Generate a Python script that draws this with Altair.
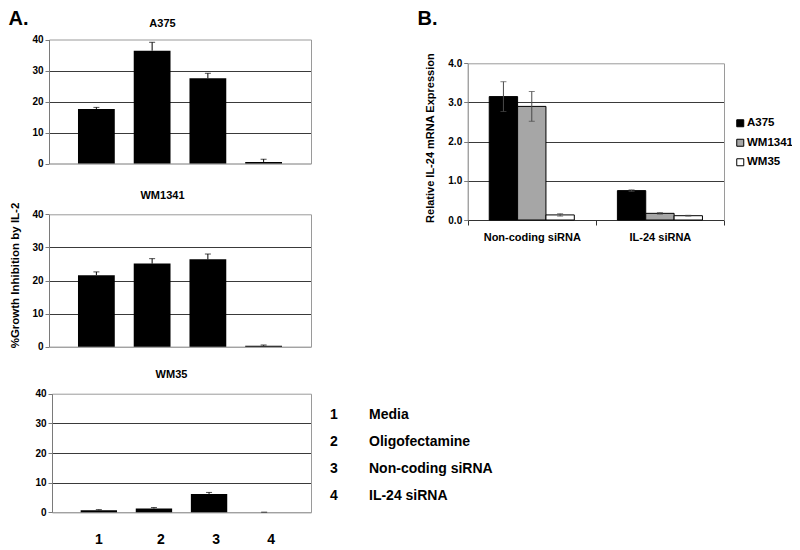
import altair as alt
import pandas as pd

W, H = 784, 542
FONT = "Liberation Sans"

# ---------------- data (panel A) ----------------
treatments = ["1", "2", "3", "4"]
treatment_names = ["Media", "Oligofectamine", "Non-coding siRNA", "IL-24 siRNA"]
a375_vals = [17.6, 36.4, 27.5, 0.5]
a375_errs = [0.5, 2.7, 1.6, 0.9]
wm1341_vals = [21.6, 25.1, 26.4, 0.3]
wm1341_errs = [1.0, 1.5, 1.6, 0.2]
wm35_vals = [0.7, 1.3, 6.2, 0.05]
wm35_errs = [0.2, 0.3, 0.5, 0.0]
a_ticks = [0, 10, 20, 30, 40]

# ---------------- data (panel B) ----------------
b_groups = ["Non-coding siRNA", "IL-24 siRNA"]
b_lines = ["A375", "WM1341", "WM35"]
b_a375 = [3.15, 0.75]
b_a375_err = [0.38, 0.02]
b_wm1341 = [2.90, 0.17]
b_wm1341_err = [0.38, 0.02]
b_wm35 = [0.13, 0.11]
b_wm35_err = [0.03, 0.01]
b_colors = ["#000000", "#a6a6a6", "#ffffff"]
b_ticks = [0, 1, 2, 3, 4]

GRID = "#3a3a3a"
BORDER = "#9a9a9a"
AXIS = "#7a7a7a"


def a_panel(name, vals, errs, xr, yr, title_x, title_y, show_labels=False,
            ytitle=None, ytitle_props=None):
    df = pd.DataFrame({"t": treatments, "v": vals, "e": errs})
    df["hi"] = df["v"] + df["e"]
    xs = alt.Scale(domain=treatments, range=list(xr), paddingInner=0.34, paddingOuter=0.52)
    ys = alt.Scale(domain=[0, 40], range=list(yr), nice=False)
    x0, x1 = xr
    y0, y1 = yr
    yaxis_kw = dict(
        orient="left", offset=-x0, values=a_ticks, format="d",
        labelFontSize=10, labelFontWeight="bold", labelColor="black", labelPadding=2,
        ticks=True, tickSize=4, tickColor=AXIS, domainColor=AXIS,
        grid=True, gridColor=GRID, gridWidth=1,
        gridOpacity=alt.condition("datum.value > 0 && datum.value < 40", alt.value(1), alt.value(0)),
        title=ytitle,
    )
    if ytitle_props:
        yaxis_kw.update(ytitle_props)
    xaxis_kw = dict(orient="bottom", offset=y0 - H, ticks=False, domainColor=AXIS,
                    labels=show_labels, title=None, grid=False)
    if show_labels:
        xaxis_kw.update(labelFontSize=14, labelFontWeight="bold", labelColor="black",
                        labelAngle=0, labelPadding=20,
                        labelOffset=alt.condition("datum.value != '1'", alt.value(7), alt.value(0)))
    base = alt.Chart(df)
    bars = base.mark_bar(color="black").encode(
        x=alt.X("t:N", scale=xs, axis=alt.Axis(**xaxis_kw)),
        y=alt.Y("v:Q", scale=ys, axis=alt.Axis(**yaxis_kw)),
    )
    err = base.mark_rule(color="black", strokeWidth=1).encode(
        x=alt.X("t:N", scale=xs, axis=alt.Axis(
            orient="top", offset=-y1, labels=False, ticks=False, grid=False,
            domainColor=BORDER, title=name, titleX=title_x, titleY=title_y,
            titleAlign="center", titleBaseline="alphabetic", titleAngle=0,
            titleFontSize=11, titleFontWeight="bold", titleColor="black")),
        y=alt.Y("v:Q", scale=ys, axis=alt.Axis(
            orient="right", offset=x1 - W, labels=False, ticks=False, grid=False,
            domainColor=BORDER, title=None)),
        y2="hi:Q",
    )
    cap = base.mark_tick(color="black", size=6, thickness=1, orient="horizontal").encode(
        x=alt.X("t:N", scale=xs, axis=None),
        y=alt.Y("hi:Q", scale=ys, axis=None),
    )
    return alt.layer(bars, err, cap).resolve_axis(x="independent", y="independent")


p_a375 = a_panel("A375", a375_vals, a375_errs, (41, 303), (155.5, 31.5), 154, -12.8,
                 ytitle="A.", ytitle_props=dict(titleAngle=0, titleX=-41, titleY=0,
                                                titleAlign="left", titleBaseline="top",
                                                titleFontSize=20, titleFontWeight="bold",
                                                titleColor="black"))
p_wm1341 = a_panel("WM1341", wm1341_vals, wm1341_errs, (41, 303), (338.7, 206.3), 154, -16,
                   ytitle="%Growth Inhibition by IL-2",
                   ytitle_props=dict(titleAngle=-90, titleX=-34, titleY=267,
                                     titleAlign="center", titleBaseline="middle",
                                     titleFontSize=11.5, titleFontWeight="bold",
                                     titleColor="black"))
p_wm35 = a_panel("WM35", wm35_vals, wm35_errs, (44, 303), (504.3, 385.7), 163, -16.2,
                 show_labels=True)

# legend text for panel A
dfl = pd.DataFrame({
    "row": [1, 2, 3, 4] * 2,
    "col": ["num"] * 4 + ["name"] * 4,
    "txt": treatments + treatment_names,
})
legend_text = alt.Chart(dfl).mark_text(
    align="left", baseline="middle", fontSize=14, fontWeight="bold", font=FONT, color="black"
).encode(
    x=alt.X("col:N", scale=alt.Scale(type="point", domain=["num", "name"], range=[322, 361], padding=0), axis=None),
    y=alt.Y("row:O", scale=alt.Scale(type="point", domain=[1, 2, 3, 4], range=[407, 488], padding=0), axis=None),
    text="txt:N",
)

# ---------------- panel B ----------------
rows = []
for line, vals, errs in [("A375", b_a375, b_a375_err), ("WM1341", b_wm1341, b_wm1341_err),
                         ("WM35", b_wm35, b_wm35_err)]:
    for g, v, e in zip(b_groups, vals, errs):
        rows.append({"g": g, "line": line, "v": v, "lo": v - e, "hi": v + e})
dfb = pd.DataFrame(rows)

bx0, bx1 = 459.7, 716
by0, by1 = 212, 55.3
bxs = alt.Scale(domain=b_groups, range=[bx0, bx1], paddingInner=0, paddingOuter=0)
bys = alt.Scale(domain=[0, 4], range=[by0, by1], nice=False)
boff = alt.Scale(domain=b_lines, paddingInner=0, paddingOuter=0.76)

bbase = alt.Chart(dfb)
b_bars = bbase.mark_bar(stroke="black", strokeWidth=1).encode(
    x=alt.X("g:N", scale=bxs, sort=b_groups, axis=alt.Axis(
        orient="bottom", offset=by0 - H, tickBand="extent", ticks=True, tickSize=5,
        tickColor="#333333", domainColor="#333333", labelAngle=0, labelFontSize=11,
        labelFontWeight="bold", labelColor="black", labelPadding=6, grid=False,
        title="B.", titleX=409, titleY=-by0, titleAlign="left",
        titleBaseline="top", titleAngle=0, titleFontSize=20,
        titleFontWeight="bold", titleColor="black")),
    xOffset=alt.XOffset("line:N", scale=boff, sort=b_lines),
    y=alt.Y("v:Q", scale=bys, axis=alt.Axis(
        orient="left", offset=-bx0, values=b_ticks, format=".1f",
        labelFontSize=10, labelFontWeight="bold", labelColor="black", labelPadding=2,
        tickSize=4, tickColor=AXIS, domainColor=AXIS, grid=True, gridColor=GRID,
        gridOpacity=alt.condition("datum.value > 0 && datum.value < 4", alt.value(1), alt.value(0)),
        title="Relative IL-24 mRNA Expression", titleAngle=-90, titleX=-37.7,
        titleY=(by0 + by1) / 2 - 4, titleAlign="center", titleBaseline="middle",
        titleFontSize=11, titleFontWeight="bold", titleColor="black")),
    fill=alt.Fill("line:N", scale=alt.Scale(domain=b_lines, range=b_colors), legend=alt.Legend(
        orient="none", legendX=726.5, legendY=109.5, title=None, symbolType="square",
        symbolSize=49, symbolStrokeColor="black", symbolStrokeWidth=1, labelFontSize=11.5,
        labelFontWeight="bold", labelColor="black", labelOffset=1, rowPadding=6.5,
        padding=0, labelLimit=60)),
)
b_err = bbase.mark_rule(color="#4a4a4a", strokeWidth=1).encode(
    x=alt.X("g:N", scale=bxs, sort=b_groups, axis=alt.Axis(
        orient="top", offset=-by1, labels=False, ticks=False, grid=False,
        domainColor=BORDER, title=None)),
    xOffset=alt.XOffset("line:N", scale=boff, sort=b_lines),
    y=alt.Y("lo:Q", scale=bys, axis=alt.Axis(
        orient="right", offset=bx1 - W, labels=False, ticks=False, grid=False,
        domainColor=BORDER, title=None)),
    y2="hi:Q",
)
b_cap_hi = bbase.mark_tick(color="#4a4a4a", size=6, thickness=1, orient="horizontal").encode(
    x=alt.X("g:N", scale=bxs, sort=b_groups, axis=None),
    xOffset=alt.XOffset("line:N", scale=boff, sort=b_lines),
    y=alt.Y("hi:Q", scale=bys, axis=None),
)
b_cap_lo = bbase.mark_tick(color="#4a4a4a", size=6, thickness=1, orient="horizontal").encode(
    x=alt.X("g:N", scale=bxs, sort=b_groups, axis=None),
    xOffset=alt.XOffset("line:N", scale=boff, sort=b_lines),
    y=alt.Y("lo:Q", scale=bys, axis=None),
)
p_b = alt.layer(b_bars, b_err, b_cap_hi, b_cap_lo).resolve_axis(x="independent", y="independent")

chart = alt.layer(p_a375, p_wm1341, p_wm35, legend_text, p_b).resolve_scale(
    x="independent", y="independent", fill="independent", xOffset="independent"
).properties(
    width=W, height=H, padding=0, autosize=alt.AutoSizeParams(type="none")
).configure(font=FONT, background="white").configure_view(strokeWidth=0, stroke="transparent")

chart.save("out.html", embed_options={"renderer": "svg", "actions": False})
